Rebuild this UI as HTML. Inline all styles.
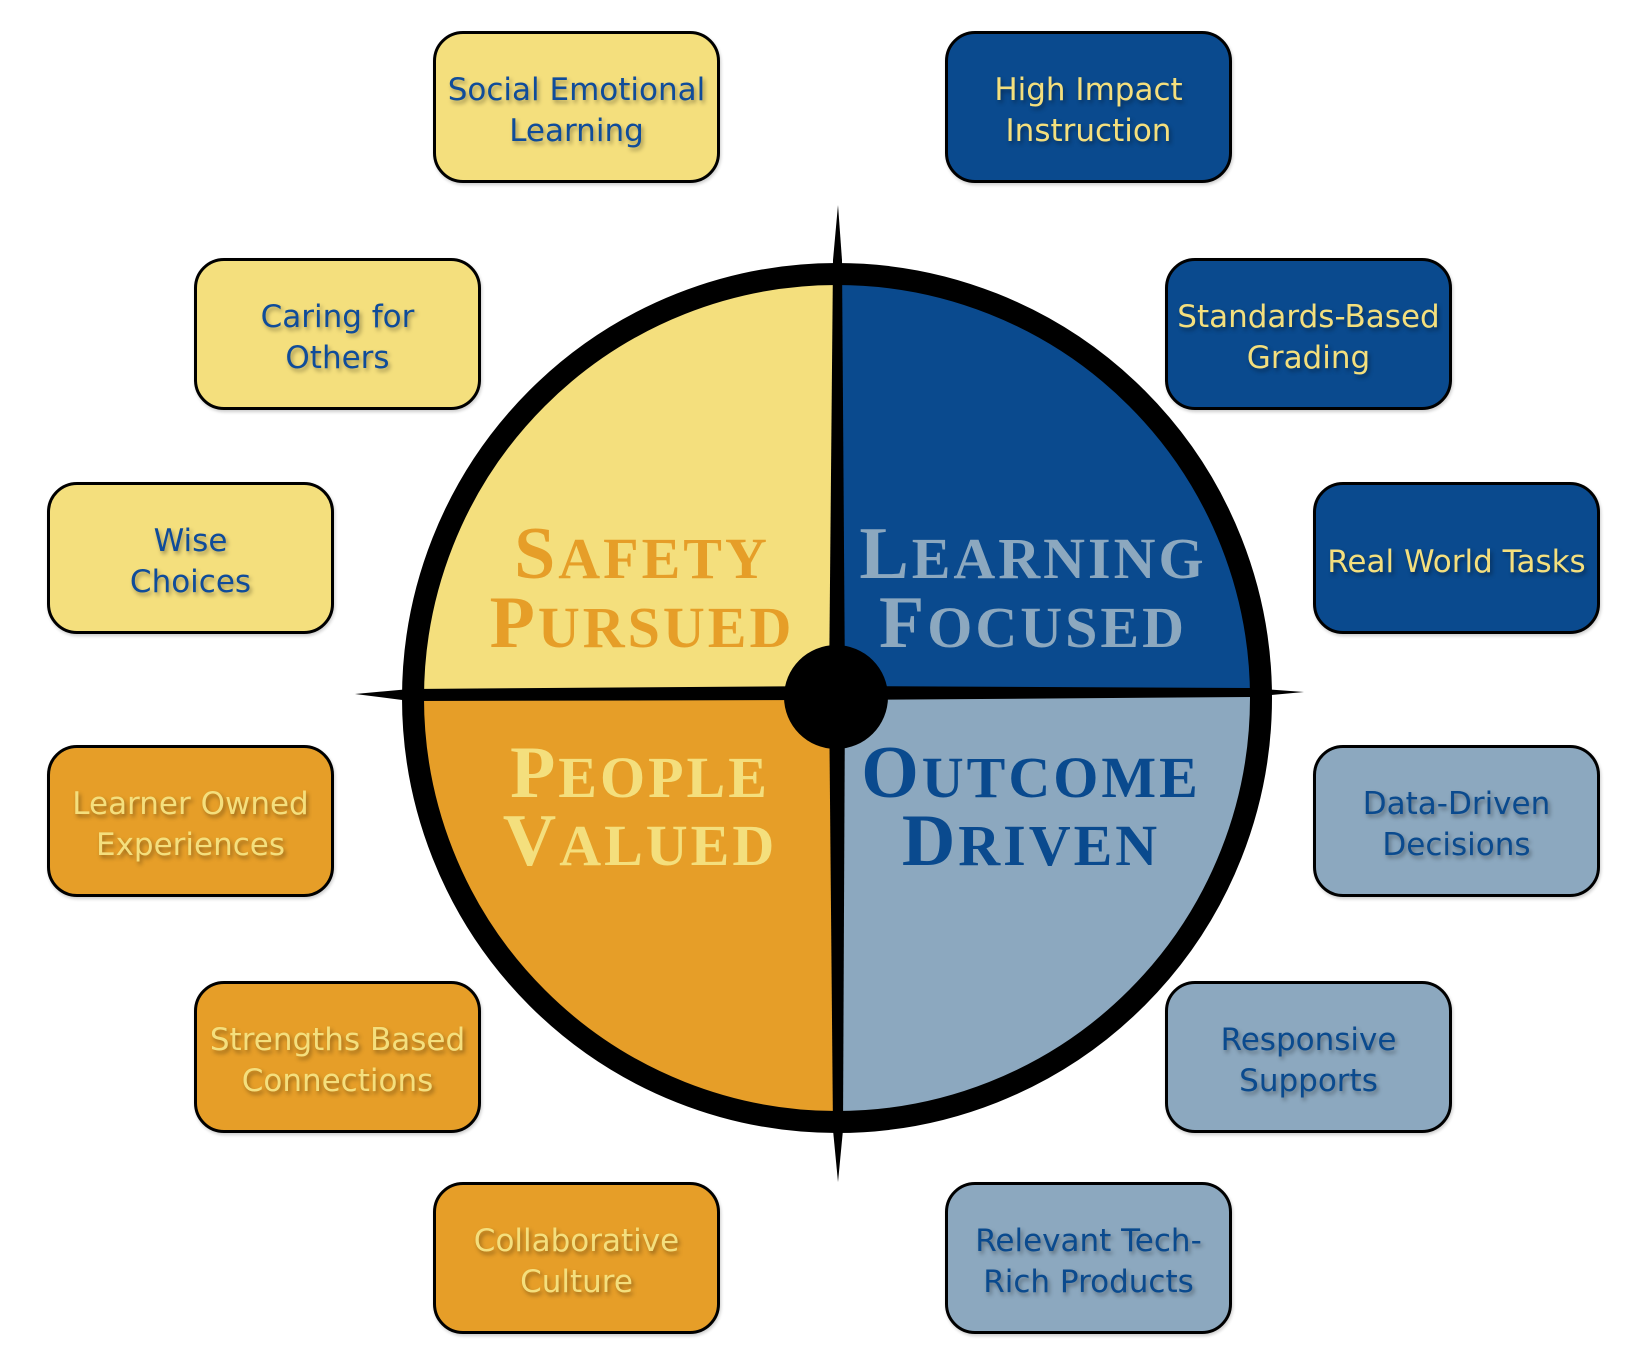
<!DOCTYPE html>
<html><head><meta charset="utf-8">
<style>
html,body{margin:0;padding:0;background:#fff;}
body{width:1636px;height:1368px;position:relative;overflow:hidden;font-family:"DejaVu Sans","Liberation Sans",sans-serif;}
.b{position:absolute;width:287px;height:152px;border:3px solid #000;border-radius:30px;box-sizing:border-box;display:flex;align-items:center;justify-content:center;text-align:center;font-size:31px;line-height:41px;padding-top:8px;text-shadow:2px 3px 4px rgba(0,0,0,0.35);box-shadow:1px 2px 3px rgba(0,0,0,0.2);white-space:nowrap;}
.y{background:#F4DF7D;color:#0F4C9A;}
.n{background:#0A4A8E;color:#F4DF7D;}
.g{background:#8CA8BF;color:#0A4A8E;}
.o{background:#E69E28;color:#F4DF7D;}
svg{position:absolute;left:0;top:0;}
.q{font-family:"Liberation Serif","DejaVu Serif",serif;font-weight:bold;font-size:74px;letter-spacing:3px;text-anchor:middle;}
</style></head><body>
<svg width="1636" height="1368">
  <path d="M837 692 L837 268 A424 424 0 0 0 413 692 Z" fill="#F4DF7D"/>
  <path d="M837 692 L837 268 A424 424 0 0 1 1261 692 Z" fill="#0A4A8E"/>
  <path d="M837 692 L1261 692 A424 424 0 0 1 837 1116 Z" fill="#8CA8BF"/>
  <path d="M837 692 L837 1116 A424 424 0 0 1 413 692 Z" fill="#E69E28"/>
  <circle cx="837" cy="698" r="424" fill="none" stroke="#000" stroke-width="22"/>
  <polygon points="838,205 842,260 845,690 843,1130 838,1182 833,1130 829,690 833,260" fill="#000"/>
  <polygon points="355,694 410,689 837,686 1250,688 1304,692 1250,697 837,700 410,701" fill="#000"/>
  <circle cx="836" cy="697" r="52" fill="#000"/>
  <text class="q" x="642" y="578" fill="#E69E28">S<tspan font-size="58">AFETY</tspan></text>
  <text class="q" x="642" y="647" fill="#E69E28">P<tspan font-size="58">URSUED</tspan></text>
  <text class="q" x="1033" y="578" fill="#8CA8BF">L<tspan font-size="58">EARNING</tspan></text>
  <text class="q" x="1033" y="647" fill="#8CA8BF">F<tspan font-size="58">OCUSED</tspan></text>
  <text class="q" x="640" y="797" fill="#F4DF7D">P<tspan font-size="58">EOPLE</tspan></text>
  <text class="q" x="640" y="865" fill="#F4DF7D">V<tspan font-size="58">ALUED</tspan></text>
  <text class="q" x="1031" y="797" fill="#0A4A8E">O<tspan font-size="58">UTCOME</tspan></text>
  <text class="q" x="1031" y="865" fill="#0A4A8E">D<tspan font-size="58">RIVEN</tspan></text>
</svg>
<div class="b y" style="left:433px;top:31px">Social Emotional<br>Learning</div>
<div class="b n" style="left:945px;top:31px">High Impact<br>Instruction</div>
<div class="b y" style="left:194px;top:258px">Caring for<br>Others</div>
<div class="b n" style="left:1165px;top:258px">Standards-Based<br>Grading</div>
<div class="b y" style="left:47px;top:482px">Wise<br>Choices</div>
<div class="b n" style="left:1313px;top:482px">Real World Tasks</div>
<div class="b o" style="left:47px;top:745px">Learner Owned<br>Experiences</div>
<div class="b g" style="left:1313px;top:745px">Data-Driven<br>Decisions</div>
<div class="b o" style="left:194px;top:981px">Strengths Based<br>Connections</div>
<div class="b g" style="left:1165px;top:981px">Responsive<br>Supports</div>
<div class="b o" style="left:433px;top:1182px">Collaborative<br>Culture</div>
<div class="b g" style="left:945px;top:1182px">Relevant Tech-<br>Rich Products</div>
</body></html>
